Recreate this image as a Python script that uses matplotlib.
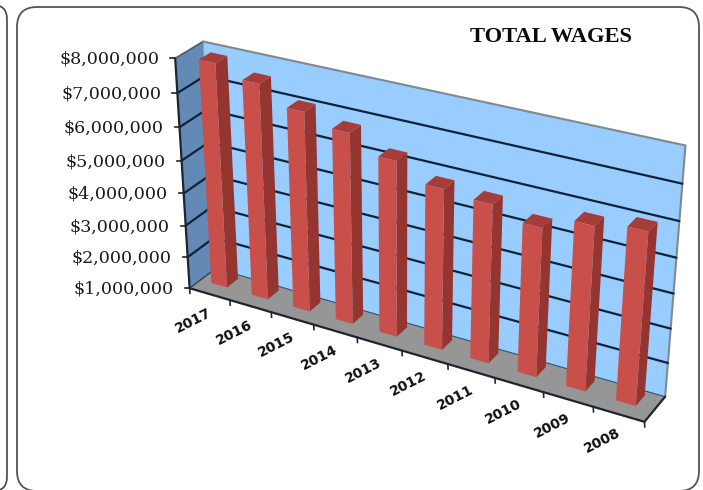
import numpy as np
import matplotlib
matplotlib.use('Agg')
import matplotlib.pyplot as plt
from matplotlib.patches import FancyBboxPatch, Polygon

# Data
years = ['2017', '2016', '2015', '2014', '2013', '2012', '2011', '2010', '2009', '2008']
wages = [7830000, 7520000, 7010000, 6710000, 6230000, 5760000, 5660000, 5350000, 5750000, 5950000]
y_ticks = [1000000, 2000000, 3000000, 4000000, 5000000, 6000000, 7000000, 8000000]

# Chart box: categories along x, value up, depth 0 (front) to 1 (back)
x_min, x_max = 0, len(years)
v_min, v_max = y_ticks[0], y_ticks[-1]

# Where known chart-box points sit in the picture, used to fit the camera
cam_world = [(0, 8, 0), (0, 1, 0), (10, 1, 0), (0, 8, 1), (0, 1, 1), (10, 8, 1), (10, 1, 1),
             (1, 1, 0), (2, 1, 0), (3, 1, 0), (4, 1, 0), (5, 1, 0), (6, 1, 0), (7, 1, 0), (8, 1, 0), (9, 1, 0),
             (10, 7, 1), (10, 6, 1), (10, 5, 1), (10, 4, 1), (10, 3, 1), (10, 2, 1),
             (0, 4, 0), (0, 7, 1)]
cam_pixel = [(173, 59), (192, 287), (644, 423), (205, 42), (212, 272), (687, 146), (667, 395),
             (232, 299), (272, 311), (314, 324), (357, 337), (402, 351), (448, 365), (494, 379), (543, 393), (593, 408),
             (682, 184), (679, 222), (676, 257), (673, 293), (670, 327), (668, 362),
             (182, 192), (206, 75)]


def fit_camera(world, pixel):
    rows = []
    for (X, Y, Z), (u, v) in zip(world, pixel):
        u, v = u / 700, v / 700
        rows.append([X, Y, Z, 1, 0, 0, 0, 0, -u * X, -u * Y, -u * Z, -u])
        rows.append([0, 0, 0, 0, X, Y, Z, 1, -v * X, -v * Y, -v * Z, -v])
    _, _, vt = np.linalg.svd(np.array(rows, dtype=float))
    return vt[-1].reshape(3, 4)


camera = fit_camera(cam_world, cam_pixel)


def project(x, value, z):
    p = camera @ np.array([x, value / 1e6, z, 1.0])
    return p[0] / p[2] * 700, p[1] / p[2] * 700


def face(ax, pts, color, zorder, edge='none', lw=0):
    ax.add_patch(Polygon([project(*p) for p in pts], closed=True, facecolor=color,
                         edgecolor=edge, linewidth=lw, zorder=zorder))


def line(ax, pts, color, lw, zorder):
    xy = np.array([project(*p) for p in pts])
    ax.plot(xy[:, 0], xy[:, 1], color=color, lw=lw, zorder=zorder, solid_capstyle='round')


fig = plt.figure(figsize=(7.03, 4.90), dpi=100)
ax = fig.add_axes([0, 0, 1, 1])
ax.set_xlim(0, 703)
ax.set_ylim(490, 0)
ax.axis('off')

# Slide panels behind the chart
ax.add_patch(FancyBboxPatch((-60, 5), 67, 486, boxstyle='round,pad=0,rounding_size=14',
                            facecolor='white', edgecolor='#444444', linewidth=1.2, zorder=1))
ax.add_patch(FancyBboxPatch((17, 7), 682, 484, boxstyle='round,pad=0,rounding_size=20',
                            facecolor='white', edgecolor='#555555', linewidth=1.3, zorder=1))

# Walls and floor
face(ax, [(0, v_min, 0), (0, v_max, 0), (0, v_max, 1), (0, v_min, 1)], '#6389B5', 2)
face(ax, [(0, v_min, 1), (0, v_max, 1), (x_max, v_max, 1), (x_max, v_min, 1)], '#99CCFF', 2)
face(ax, [(0, v_min, 0), (x_max, v_min, 0), (x_max, v_min, 1), (0, v_min, 1)], '#969696', 2)
line(ax, [(0, v_max, 1), (x_max, v_max, 1), (x_max, v_min, 1)], '#808890', 1.5, 3)
line(ax, [(0, v_max, 0), (0, v_max, 1)], '#4d5a68', 1.2, 3)
line(ax, [(0, v_max, 1), (0, v_min, 1)], '#7fa5cc', 0.8, 3)

# Gridlines run over the side wall and then along the back wall
for t in y_ticks[1:-1]:
    line(ax, [(0, t, 0), (0, t, 1), (x_max, t, 1)], '#0f2238', 1.6, 4)
line(ax, [(0, v_min, 1), (x_max, v_min, 1)], '#33506e', 0.8, 4)

# Axis edges
line(ax, [(0, v_max, 0), (0, v_min, 0), (x_max, v_min, 0), (x_max, v_min, 1)], '#1c2530', 1.6, 5)
line(ax, [(0, v_min, 0), (0, v_min, 1)], '#33414f', 1.0, 5)

# Bars
bar_x0, bar_x1 = 0.27, 0.66
bar_z0, bar_z1 = 0.42, 0.85
for i, w in enumerate(wages):
    x0, x1 = i + bar_x0, i + bar_x1
    face(ax, [(x1, v_min, bar_z0), (x1, w, bar_z0), (x1, w, bar_z1), (x1, v_min, bar_z1)], '#94352F', 6)
    face(ax, [(x0, w, bar_z0), (x1, w, bar_z0), (x1, w, bar_z1), (x0, w, bar_z1)], '#A63D39', 6)
    face(ax, [(x0, v_min, bar_z0), (x1, v_min, bar_z0), (x1, w, bar_z0), (x0, w, bar_z0)], '#C94F4B', 7)

# Value axis ticks and labels
for t in y_ticks:
    px, py = project(0, t, 0)
    ax.plot([px - 5, px], [py, py], color='#1c2530', lw=1.2, zorder=5)
    ax.text(px - 16, py + 1, '${:,}'.format(t), ha='right', va='center', family='DejaVu Serif',
            fontsize=12.6, color='#1a1a1a', zorder=8)

# Category ticks and labels
for i in range(x_max + 1):
    px, py = project(i, v_min, 0)
    ax.plot([px, px + 0.3], [py, py + 5], color='#1c2530', lw=1.2, zorder=5)
for i, year in enumerate(years):
    px, py = project(i + 0.5, v_min, 0)
    ax.text(px - 16, py + 26.5, year, ha='center', va='center', rotation=27, rotation_mode='anchor',
            family='DejaVu Sans', fontweight='bold', fontsize=10, color='#111111', zorder=8)

ax.text(551.5, 37.5, 'TOTAL WAGES', ha='center', va='center', family='Liberation Serif',
        fontweight='bold', fontsize=16.2, color='#0a0a0a', zorder=8)

fig.savefig('out.png', dpi=100)
